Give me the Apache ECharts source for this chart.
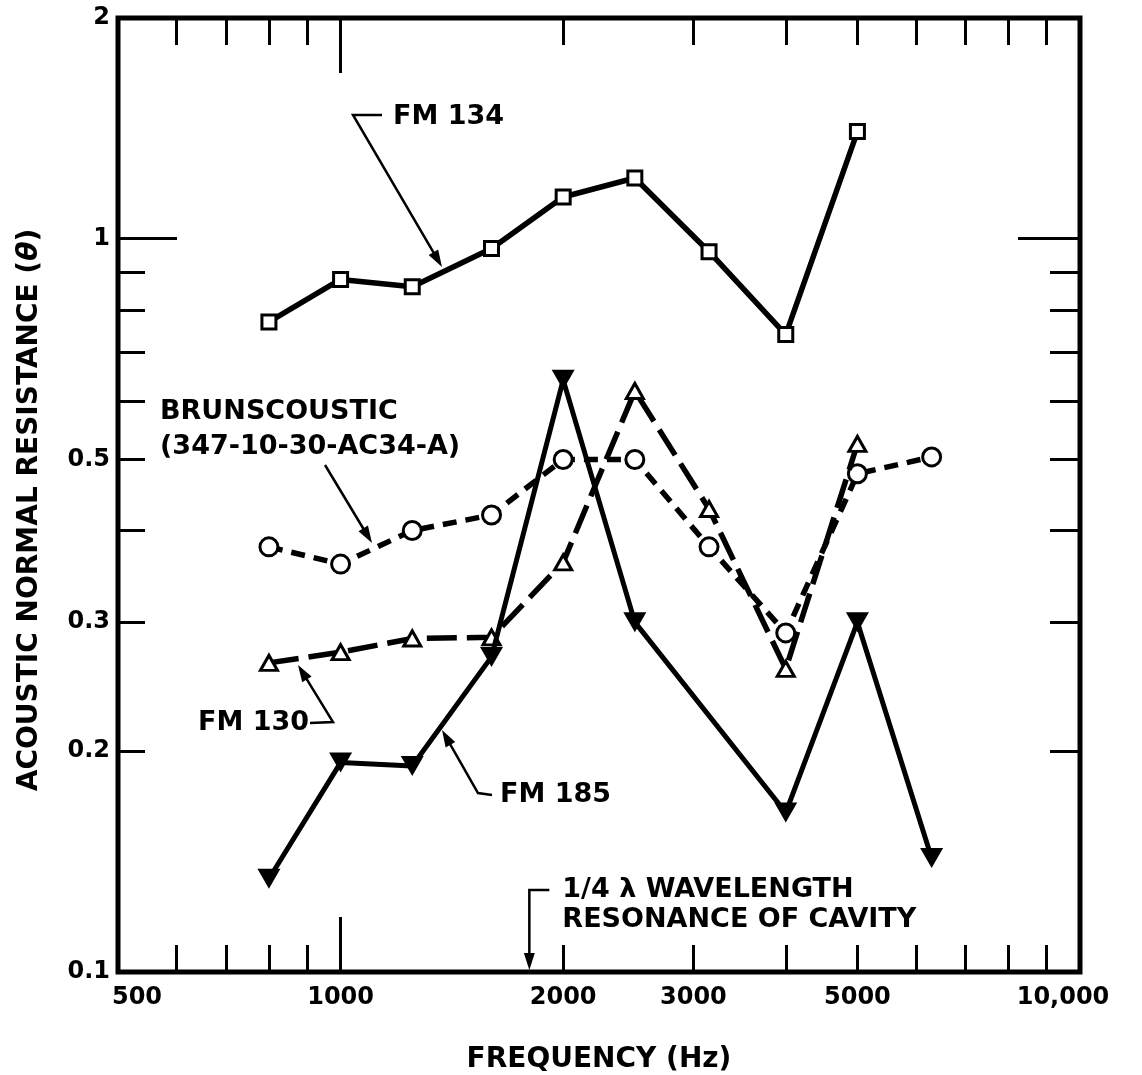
<!DOCTYPE html>
<html>
<head>
<meta charset="utf-8">
<script src="https://cdn.jsdelivr.net/npm/echarts@6/dist/echarts.min.js"></script>
<style>
  html, body { margin: 0; padding: 0; background: #fff; }
  #chart { width: 1142px; height: 1075px; }
</style>
</head>
<body>
<div id="chart"></div>
<script>
// Acoustic normal resistance vs frequency, log-log, four liner materials.

const freqs = [800, 1000, 1250, 1600, 2000, 2500, 3150, 4000, 5000, 6300];
const fm134 = [0.77, 0.88, 0.86, 0.97, 1.14, 1.21, 0.96, 0.74, 1.40, null];
const brunscoustic = [0.38, 0.36, 0.40, 0.42, 0.50, 0.50, 0.38, 0.29, 0.478, 0.504];
const fm130 = [0.264, 0.273, 0.285, 0.286, 0.362, 0.62, 0.428, 0.259, 0.525, null];
const fm185 = [0.134, 0.193, 0.191, 0.269, 0.642, 0.30, null, 0.165, 0.30, 0.143];

const xMinorTicks = [600, 700, 800, 900, 2000, 3000, 4000, 5000, 6000, 7000, 8000, 9000];
const xMajorTicks = [1000];
const xLabels = [500, 1000, 2000, 3000, 5000, 10000];
const yMinorTicks = [0.2, 0.3, 0.4, 0.5, 0.6, 0.7, 0.8, 0.9];
const yMajorTicks = [1];
const yLabels = [0.1, 0.2, 0.3, 0.5, 1, 2];
const resonanceHz = 1800;

const FONT = '"DejaVu Sans", "Liberation Sans", sans-serif';
const INK = '#000';

const pairs = (vals) => freqs.map((f, i) => [f, vals[i]]);

function tickAxis(dim, position, ticks, len, extra) {
  const isX = dim === 'x';
  return Object.assign({
    type: 'log', logBase: 10,
    min: isX ? 500 : 0.1, max: isX ? 10000 : 2,
    position: position,
    axisLine: { show: false },
    axisTick: { show: true, inside: true, length: len, customValues: ticks,
                lineStyle: { color: INK, width: 3 } },
    axisLabel: { show: false },
    splitLine: { show: false },
    minorTick: { show: false },
    axisPointer: { show: false },
  }, extra || {});
}

const chart = echarts.init(document.getElementById('chart'), null, { renderer: 'canvas' });

const labelStyle = { color: INK, fontFamily: FONT, fontWeight: 'bold', fontSize: 24 };
const nameFont = { color: INK, fontFamily: FONT, fontWeight: 'bold', fontSize: 28 };

chart.setOption({
  animation: false,
  backgroundColor: '#fff',
  grid: { left: 118, right: 62, top: 18, bottom: 103, show: true,
          outerBoundsMode: 'none', containLabel: false,
          borderColor: INK, borderWidth: 5, backgroundColor: 'transparent' },
  xAxis: [
    tickAxis('x', 'bottom', xMinorTicks, 27, {
      name: 'FREQUENCY (Hz)', nameLocation: 'middle', nameGap: 74,
      nameTextStyle: nameFont,
      axisLabel: Object.assign({
        show: true, margin: 14, customValues: xLabels,
        showMinLabel: true, showMaxLabel: true,
        formatter: (v) => {
          if (v >= 9999) return '{last|10,000}';
          if (v <= 501) return '{first|500}';
          return String(Math.round(v));
        },
        rich: {
          first: Object.assign({ padding: [0, 0, 0, 38] }, labelStyle),
          last: Object.assign({ padding: [0, 34, 0, 0] }, labelStyle),
        },
      }, labelStyle),
    }),
    tickAxis('x', 'bottom', xMajorTicks, 55),
    tickAxis('x', 'top', xMinorTicks, 27),
    tickAxis('x', 'top', xMajorTicks, 55),
  ],
  yAxis: [
    tickAxis('y', 'left', yMinorTicks, 27, {
      name: '{a|ACOUSTIC NORMAL RESISTANCE (}{t|θ}{a|)}',
      nameLocation: 'middle', nameGap: 74, nameRotate: 90,
      nameTextStyle: {
        padding: [0, 30, 0, 0],
        rich: {
          a: nameFont,
          t: Object.assign({ fontStyle: 'italic' }, nameFont),
        },
      },
      axisLabel: Object.assign({
        show: true, margin: 8, customValues: yLabels,
        showMinLabel: true, showMaxLabel: true,
        formatter: (v) => String(+v.toPrecision(2)),
      }, labelStyle),
    }),
    tickAxis('y', 'left', yMajorTicks, 59),
    tickAxis('y', 'right', yMinorTicks, 30),
    tickAxis('y', 'right', yMajorTicks, 62),
  ],
  series: [
    {
      name: 'FM 134', type: 'line', data: pairs(fm134),
      symbol: 'rect', symbolSize: 14,
      lineStyle: { color: INK, width: 5.5, type: 'solid' },
      itemStyle: { color: '#fff', borderColor: INK, borderWidth: 3 },
      z: 3,
    },
    {
      name: 'BRUNSCOUSTIC', type: 'line', data: pairs(brunscoustic),
      symbol: 'circle', symbolSize: 18,
      lineStyle: { color: INK, width: 5.5, type: [14, 9] },
      itemStyle: { color: '#fff', borderColor: INK, borderWidth: 3 },
      z: 4,
    },
    {
      name: 'FM 130', type: 'line', data: pairs(fm130),
      symbol: 'triangle', symbolSize: [17, 15],
      lineStyle: { color: INK, width: 5.5, type: [30, 10] },
      itemStyle: { color: '#fff', borderColor: INK, borderWidth: 3 },
      z: 5,
    },
    {
      name: 'FM 185', type: 'line', data: pairs(fm185), connectNulls: true,
      symbol: 'triangle', symbolSize: [23, 20], symbolRotate: 180,
      lineStyle: { color: INK, width: 5, type: 'solid' },
      itemStyle: { color: INK, borderWidth: 0 },
      z: 6,
    },
  ],
});

// ---- annotations: labels with leader arrows ----
function arrow(pts) {
  const n = pts.length;
  const tx = pts[n - 1][0], ty = pts[n - 1][1];
  const dx = tx - pts[n - 2][0], dy = ty - pts[n - 2][1];
  const L = Math.hypot(dx, dy), ux = dx / L, uy = dy / L;
  const len = 17, hw = 5.5;
  const bx = tx - ux * len, by = ty - uy * len;
  const shaft = pts.slice(0, n - 1).concat([[bx + ux * 3, by + uy * 3]]);
  return [
    { type: 'polyline', shape: { points: shaft }, style: { stroke: INK, lineWidth: 2.5, fill: null }, z: 20 },
    { type: 'polygon', shape: { points: [[tx, ty], [bx - uy * hw, by + ux * hw], [bx + uy * hw, by - ux * hw]] },
      style: { fill: INK }, z: 20 },
  ];
}
function label(text, x, y) {
  return { type: 'text', z: 20,
    style: { text: text, x: x, y: y, fill: INK, align: 'left', verticalAlign: 'middle',
             font: 'bold 27px ' + FONT } };
}

const rx = chart.convertToPixel({ xAxisIndex: 0 }, resonanceHz);
const ry = chart.convertToPixel({ yAxisIndex: 0 }, 0.1);

const graphics = [].concat(
  label('FM 134', 393, 117),
  arrow([[382, 115], [353, 115], [442, 267]]),
  label('BRUNSCOUSTIC', 160, 412),
  label('(347-10-30-AC34-A)', 160, 447),
  arrow([[325, 465], [372, 543]]),
  label('FM 130', 198, 723),
  arrow([[310, 723], [333, 722], [298, 665]]),
  label('FM 185', 500, 795),
  arrow([[492, 795], [478, 793], [442, 730]]),
  label('1/4 λ WAVELENGTH', rx + 33, 890),
  label('RESONANCE OF CAVITY', rx + 33, 920),
  arrow([[rx + 20, 890], [rx, 890], [rx, ry - 2]])
);
chart.setOption({ graphic: graphics });
</script>
</body>
</html>
